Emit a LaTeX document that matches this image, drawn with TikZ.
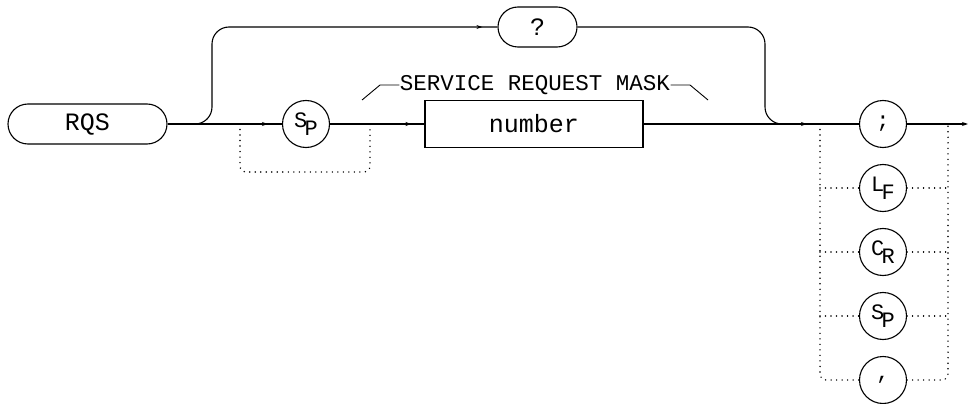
\documentclass[tikz,border=0pt]{standalone}
\usepackage{fontspec}
\newfontfamily\plotfont{Liberation Mono}
\usetikzlibrary{arrows.meta,decorations.markings}
\newcommand\subl[2]{#1\kern-0.12em\raisebox{-0.36em}{#2}}
\begin{document}
\begin{tikzpicture}[x=1pt,y=-1pt,
  line width=1.1pt,
  every node/.style={font=\plotfont},
  term/.style={draw, rounded corners=20pt, minimum height=40pt, inner sep=0pt, font=\plotfont\fontsize{25}{25}\selectfont},
  circ/.style={draw, circle, minimum size=47pt, inner sep=0pt, font=\plotfont\fontsize{22}{22}\selectfont},
  nbox/.style={draw, rectangle, minimum width=218pt, minimum height=47pt, inner sep=0pt, font=\plotfont\fontsize{25}{25}\selectfont},
  arr/.style={postaction={decorate,decoration={markings,mark=at position -#1 with {\arrow{Stealth[length=6pt,width=4pt]}}}}},
  dots/.style={line width=1.6pt, dash pattern=on 0.01pt off 5.5pt, line cap=round, rounded corners=6pt}
]
\useasboundingbox (0,0) rectangle (970,404);
% nodes
\node[term, minimum width=159pt] (rqs) at (87.5,124) {RQS};
\node[circ] (sp1) at (306,124) {\subl{S}{P}};
\node[nbox] (num) at (534,124) {number};
\node[term, minimum width=79pt] (q) at (537.5,27) {?};
\node[circ] (semi) at (883,124) {;};
\node[circ] (lf) at (883,188) {\subl{L}{F}};
\node[circ] (cr) at (883,252) {\subl{C}{R}};
\node[circ] (sp2) at (883,316) {\subl{S}{P}};
\node[circ] (comma) at (883,380) {,};
\node[inner sep=0pt, font=\plotfont\fontsize{22.5}{22.5}\selectfont] (lbl) at (535,85) {SERVICE REQUEST MASK};
\coordinate (split) at (195,124);
\coordinate (join) at (790,124);
\coordinate (end) at (968,124);
% main line
\draw[arr=14pt] (rqs) -- (sp1);
\draw[arr=13pt] (sp1) -- (num);
\draw[arr=52pt] (num) -- (semi);
\draw[-{Stealth[length=6pt,width=4pt]}] (semi) -- (end);
% query branch
\draw[rounded corners=17pt, arr=15pt] (split) -- (212,124) -- (212,27) -- (q.west);
\draw[rounded corners=17pt] (q.east) -- (765,27) -- (765,124) -- (join);
% label
\draw[line width=0.9pt] (362,100) -- (380,85) -- (lbl.west);
\draw[line width=0.9pt] (lbl.east) -- (690,85) -- (708,100);
% dotted bypass
\draw[dots] (240,124) -- (240,172) -- (370,172) -- (370,124);
% terminator choices
\draw[dots] (820,124) -- (820,380) -- (comma.west);
\draw[dots] (comma.east) -- (948,380) -- (948,124);
\draw[dots] (820,188) -- (lf.west);
\draw[dots] (lf.east) -- (948,188);
\draw[dots] (820,252) -- (cr.west);
\draw[dots] (cr.east) -- (948,252);
\draw[dots] (820,316) -- (sp2.west);
\draw[dots] (sp2.east) -- (948,316);
\end{tikzpicture}
\end{document}
